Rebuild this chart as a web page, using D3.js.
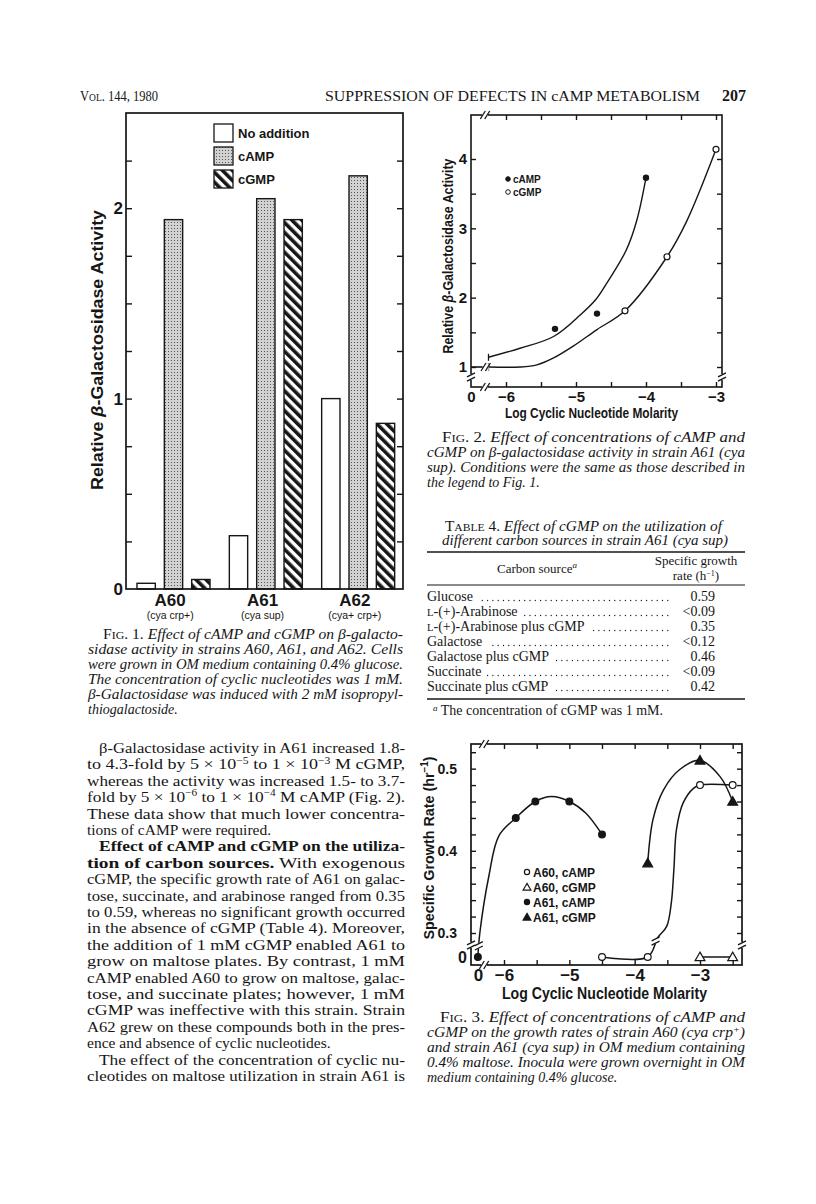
<!DOCTYPE html>
<html>
<head>
<meta charset="utf-8">
<script src="https://cdn.jsdelivr.net/npm/d3@7"></script>
<style>
  body { margin: 0; background: #fff; }
</style>
</head>
<body>
<div id="page"></div>
<script>
// ---------- Fig. 1 data (relative beta-galactosidase activity)
const strains = ["A60", "A61", "A62"];
const strainNotes = ["(cya crp+)", "(cya sup)", "(cya+ crp+)"];
const treatments = ["No addition", "cAMP", "cGMP"];
const activityNone = [0.03, 0.28, 1.0];
const activityCAMP = [1.94, 2.05, 2.17];
const activityCGMP = [0.05, 1.94, 0.87];
const fig1Labels = [0, 1, 2];

// ---------- Fig. 2 data (log molarity vs relative activity)
const f2Zero = -6.5;            // where "0" concentration sits on the axis
const f2ZeroActivity = 1.0;
const f2CampLog = [-5.3, -4.7, -4];
const f2CampAct = [1.55, 1.77, 3.73];
const f2CgmpLog = [-4.3, -3.7, -3];
const f2CgmpAct = [1.81, 2.59, 4.14];
const f2CampFit = [[-6.25, 1.14], [-5.8, 1.27], [-5.32, 1.44], [-4.94, 1.75], [-4.72, 1.97],
                   [-4.56, 2.21], [-4.28, 2.69], [-4.13, 3.12], [-4, 3.73]];
const f2CgmpFit = [[-6.25, 1.0], [-5.8, 1.0], [-5.56, 1.03], [-5.32, 1.13], [-5.04, 1.3],
                   [-4.7, 1.54], [-4.3, 1.81], [-3.7, 2.59], [-3.42, 3.1], [-3, 4.14]];
const f2XLabels = [f2Zero, -6, -5, -4, -3];
const f2YLabels = [1, 2, 3, 4];

// ---------- Fig. 3 data (log molarity vs specific growth rate)
const f3Zero = -6.4;
const a61CampLog = [f3Zero, -5.82, -5.52, -5, -4.5];
const a61CampRate = [0, 0.44, 0.46, 0.46, 0.42];
const a61CgmpLog = [-3.8, -3, -2.5];
const a61CgmpRate = [0.385, 0.51, 0.46];
const a60CampLog = [-4.5, -3.8, -3, -2.5];
const a60CampRate = [0, 0, 0.48, 0.48];
const a60CgmpLog = [-3, -2.5];
const a60CgmpRate = [0, 0];
const a61CampFit = [[f3Zero, 0], [-6.37, 0.3], [-6.23, 0.37], [-6.08, 0.418], [-5.82, 0.44],
                    [-5.52, 0.46], [-5.27, 0.466], [-5, 0.46], [-4.75, 0.446], [-4.5, 0.42]];
const a61CgmpFit = [[-3.8, 0.385], [-3.72, 0.438], [-3.56, 0.474], [-3.31, 0.499], [-3, 0.51],
                    [-2.69, 0.49], [-2.5, 0.46]];
const a60CampFit = [[-4.5, 0], [-3.8, 0], [-3.64, 0.25], [-3.51, 0.308], [-3.44, 0.336],
                    [-3.4, 0.377], [-3.36, 0.426], [-3.26, 0.458], [-3.1, 0.476], [-3, 0.48], [-2.5, 0.48]];
const a60CgmpFit = [[-3, 0], [-2.5, 0]];
const f3Legend = ["A60, cAMP", "A60, cGMP", "A61, cAMP", "A61, cGMP"];
const f3XLabels = [f3Zero, -6, -5, -4, -3];
const f3YLabels = [0, 0.3, 0.4, 0.5];

// ---------- Table 4
const carbonSources = ["Glucose", "~L~-(+)-Arabinose", "~L~-(+)-Arabinose plus cGMP", "Galactose",
                       "Galactose plus cGMP", "Succinate", "Succinate plus cGMP"];
const growthRates = ["0.59", "<0.09", "0.35", "<0.12", "0.46", "<0.09", "0.42"];

// ---------- page text
const cap1 = [
  ">=F=~IG~=. 1.= Effect of cAMP and cGMP on β-galacto-",
  "sidase activity in strains A60, A61, and A62. Cells",
  "were grown in OM medium containing 0.4% glucose.",
  "The concentration of cyclic nucleotides was 1 mM.",
  "β-Galactosidase was induced with 2 mM isopropyl-",
  "thiogalactoside.$"
];
const cap2 = [
  ">=F=~IG~=. 2.= Effect of concentrations of cAMP and",
  "cGMP on β-galactosidase activity in strain A61 (cya",
  "sup). Conditions were the same as those described in",
  "the legend to Fig. 1.$"
];
const cap3 = [
  ">=F=~IG~=. 3.= Effect of concentrations of cAMP and",
  "cGMP on the growth rates of strain A60 (cya crp^+^)",
  "and strain A61 (cya sup) in OM medium containing",
  "0.4% maltose. Inocula were grown overnight in OM",
  "medium containing 0.4% glucose.$"
];
const bodyLines = [
  ">β-Galactosidase activity in A61 increased 1.8-",
  "to 4.3-fold by 5 × 10^−5^ to 1 × 10^−3^ M cGMP,",
  "whereas the activity was increased 1.5- to 3.7-",
  "fold by 5 × 10^−6^ to 1 × 10^−4^ M cAMP (Fig. 2).",
  "These data show that much lower concentra-",
  "tions of cAMP were required.$",
  ">*Effect of cAMP and cGMP on the utiliza-*",
  "*tion of carbon sources.* With exogenous",
  "cGMP, the specific growth rate of A61 on galac-",
  "tose, succinate, and arabinose ranged from 0.35",
  "to 0.59, whereas no significant growth occurred",
  "in the absence of cGMP (Table 4). Moreover,",
  "the addition of 1 mM cGMP enabled A61 to",
  "grow on maltose plates. By contrast, 1 mM",
  "cAMP enabled A60 to grow on maltose, galac-",
  "tose, and succinate plates; however, 1 mM",
  "cGMP was ineffective with this strain. Strain",
  "A62 grew on these compounds both in the pres-",
  "ence and absence of cyclic nucleotides.$",
  ">The effect of the concentration of cyclic nu-",
  "cleotides on maltose utilization in strain A61 is"
];

const SERIF = "'Liberation Serif', 'DejaVu Serif', serif";
const SANS = "'Liberation Sans', Arial, sans-serif";
const INK = "#161616";

const svg = d3.select("#page").append("svg")
  .attr("width", 816).attr("height", 1204)
  .style("background", "#fff");

const defs = svg.append("defs");
const dots = defs.append("pattern").attr("id", "stipple")
  .attr("width", 3).attr("height", 3).attr("patternUnits", "userSpaceOnUse");
dots.append("rect").attr("width", 3).attr("height", 3).attr("fill", "#d2d2d2");
dots.append("rect").attr("width", 1).attr("height", 1).attr("fill", "#555");
const hatch = defs.append("pattern").attr("id", "hatch")
  .attr("width", 7).attr("height", 7).attr("patternUnits", "userSpaceOnUse")
  .attr("patternTransform", "rotate(-45)");
hatch.append("rect").attr("width", 7).attr("height", 7).attr("fill", "#fff");
hatch.append("rect").attr("width", 3.6).attr("height", 7).attr("fill", INK);

// markup: *bold*  =upright=  ~small caps~  ^superscript^ ; ">" indent, trailing "$" = ragged
function richLine(g, x, y, src, o) {
  let s = src, indent = 0, justify = o.justify !== false;
  if (s.startsWith(">")) { indent = o.indent || 0; s = s.slice(1); }
  if (s.endsWith("$")) { justify = false; s = s.slice(0, -1); }
  const t = g.append("text").attr("x", x + indent).attr("y", y)
    .attr("font-family", SERIF).attr("font-size", o.size)
    .attr("font-style", o.italic ? "italic" : "normal").attr("fill", INK);
  const parts = s.split(/(\*[^*]+\*|=[^=]+=|~[^~]+~|\^[^^]+\^)/).filter(p => p);
  let raised = false;
  parts.forEach(p => {
    const ts = t.append("tspan");
    const m = p[0];
    let txt = p;
    if ("*=~^".includes(m) && p.length > 2 && p[p.length - 1] === m) {
      txt = p.slice(1, -1);
      if (m === "*") ts.attr("font-weight", "bold");
      if (m === "=") ts.attr("font-style", "normal");
      if (m === "~") ts.attr("font-style", "normal").attr("font-size", o.size * 0.76);
      if (m === "^") {
        ts.attr("font-size", o.size * 0.65).attr("dy", -o.size * 0.38).text(txt);
        raised = true;
        return;
      }
    }
    if (raised) { ts.attr("dy", o.size * 0.38); raised = false; }
    ts.text(txt);
  });
  if (justify) t.attr("textLength", o.width - indent).attr("lengthAdjust", "spacingAndGlyphs");
  return t;
}
function block(lines, x, y, lh, o) {
  const g = svg.append("g");
  lines.forEach((ln, i) => richLine(g, x, y + i * lh, ln, o));
  return g;
}

function breakMark(g, x, y, dir) {
  const b = g.append("g");
  if (dir === "h") {
    b.append("rect").attr("x", x - 3).attr("y", y - 3).attr("width", 6).attr("height", 6).attr("fill", "#fff");
    [-2.2, 2.2].forEach(d => b.append("line")
      .attr("x1", x + d - 2.5).attr("y1", y + 4).attr("x2", x + d + 2.5).attr("y2", y - 4));
  } else {
    b.append("rect").attr("x", x - 3).attr("y", y - 3).attr("width", 6).attr("height", 6).attr("fill", "#fff");
    [-2.2, 2.2].forEach(d => b.append("line")
      .attr("x1", x - 4).attr("y1", y + d + 2).attr("x2", x + 4).attr("y2", y + d - 2));
  }
  b.selectAll("line").attr("stroke", INK).attr("stroke-width", 1.3);
}

function styleAxisText(g, size) {
  g.select(".domain").remove();
  g.selectAll("text").attr("font-family", SANS).attr("font-weight", "bold")
    .attr("font-size", size).attr("fill", INK);
  g.selectAll("line").attr("stroke", INK).attr("stroke-width", 1.4);
}

// ---------- running head
const head = svg.append("g");
richLine(head, 80, 101, "V~OL~. 144, 1980", { size: 14, width: 78 });
richLine(head, 325, 101, "SUPPRESSION OF DEFECTS IN cAMP METABOLISM", { size: 14, width: 375 });
head.append("text").attr("x", 746).attr("y", 101).attr("text-anchor", "end")
  .attr("font-family", SERIF).attr("font-size", 16).attr("font-weight", "bold").attr("fill", INK).text("207");

// ---------- Fig. 1
const f1 = svg.append("g");
const b1 = { x0: 126, x1: 403, y0: 113, y1: 589 };
const y1 = d3.scaleLinear().domain([0, 2.5]).range([b1.y1, b1.y0]);
const xg = d3.scaleBand().domain(strains).range([b1.x0, b1.x1]);
const xb = d3.scaleBand().domain(treatments).range([11, 84]).paddingInner(0.33);
const seriesVals = { "No addition": activityNone, "cAMP": activityCAMP, "cGMP": activityCGMP };
const seriesFill = { "No addition": "#fff", "cAMP": "url(#stipple)", "cGMP": "url(#hatch)" };

const f1Ticks = d3.range(1, 10).map(i => i * 0.25);
f1.append("g").attr("transform", `translate(${b1.x0},0)`)
  .call(d3.axisRight(y1).tickValues(f1Ticks).tickSize(6).tickFormat(""))
  .call(g => styleAxisText(g, 17));
f1.append("g").attr("transform", `translate(${b1.x1},0)`)
  .call(d3.axisLeft(y1).tickValues(f1Ticks).tickSize(6).tickFormat(""))
  .call(g => styleAxisText(g, 17));
f1.append("g").attr("transform", `translate(${b1.x0 - 3},0)`)
  .call(d3.axisLeft(y1).tickValues(fig1Labels).tickSize(0).tickPadding(0).tickFormat(d3.format("d")))
  .call(g => styleAxisText(g, 17));

strains.forEach((s, i) => {
  treatments.forEach(t => {
    const v = seriesVals[t][i];
    f1.append("rect")
      .attr("x", xg(s) + xb(t)).attr("width", xb.bandwidth())
      .attr("y", y1(v)).attr("height", y1(0) - y1(v))
      .attr("fill", seriesFill[t]).attr("stroke", INK).attr("stroke-width", 1.4);
  });
  const cx = xg(s) + xg.bandwidth() / 2 - 2;
  f1.append("text").attr("x", cx).attr("y", 606).attr("text-anchor", "middle")
    .attr("font-family", SANS).attr("font-weight", "bold").attr("font-size", 17).attr("fill", INK).text(s);
  f1.append("text").attr("x", cx).attr("y", 619).attr("text-anchor", "middle")
    .attr("font-family", SANS).attr("font-size", 10.5).attr("fill", INK).text(strainNotes[i]);
});
f1.append("rect").attr("x", b1.x0).attr("y", b1.y0).attr("width", b1.x1 - b1.x0).attr("height", b1.y1 - b1.y0)
  .attr("fill", "none").attr("stroke", INK).attr("stroke-width", 1.7);

treatments.forEach((t, i) => {
  const ly = 124 + i * 23;
  f1.append("rect").attr("x", 214).attr("y", ly).attr("width", 19).attr("height", 18)
    .attr("fill", seriesFill[t]).attr("stroke", INK).attr("stroke-width", 1.3);
  f1.append("text").attr("x", 238).attr("y", ly + 14).attr("font-family", SANS).attr("font-weight", "bold")
    .attr("font-size", 13).attr("fill", INK).text(t);
});
const f1yl = f1.append("text").attr("transform", "translate(103,350) rotate(-90)").attr("text-anchor", "middle")
  .attr("font-family", SANS).attr("font-weight", "bold").attr("font-size", 17).attr("fill", INK)
  .attr("textLength", 280).attr("lengthAdjust", "spacingAndGlyphs");
f1yl.append("tspan").text("Relative ");
f1yl.append("tspan").attr("font-style", "italic").text("β");
f1yl.append("tspan").text("-Galactosidase Activity");

block(cap1, 88, 639, 15, { size: 14, italic: true, width: 315, indent: 15 });

// ---------- body text
block(bodyLines, 87, 753, 16.4, { size: 15.5, width: 318, indent: 12 });

// ---------- Fig. 2
const f2 = svg.append("g");
const b2 = { x0: 471, x1: 722, y0: 115, y1: 387 };
const x2 = d3.scaleLinear().domain([-6, -3]).range([506, 716]);
const y2 = d3.scaleLinear().domain([1, 4]).range([367, 159]);
const f2XT = d3.range(0, 7).map(i => -6 + i * 0.5);
const f2YT = d3.range(0, 7).map(i => 1 + i * 0.5);
f2.append("g").attr("transform", `translate(0,${b2.y1})`)
  .call(d3.axisTop(x2).tickValues(f2XT).tickSize(5).tickFormat("")).call(g => styleAxisText(g, 14));
f2.append("g").attr("transform", `translate(0,${b2.y0})`)
  .call(d3.axisBottom(x2).tickValues(f2XT).tickSize(5).tickFormat("")).call(g => styleAxisText(g, 14));
f2.append("g").attr("transform", `translate(${b2.x0},0)`)
  .call(d3.axisRight(y2).tickValues(f2YT).tickSize(5).tickFormat("")).call(g => styleAxisText(g, 14));
f2.append("g").attr("transform", `translate(${b2.x1},0)`)
  .call(d3.axisLeft(y2).tickValues(f2YT).tickSize(5).tickFormat("")).call(g => styleAxisText(g, 14));
f2.append("g").attr("transform", `translate(${b2.x0 - 4},0)`)
  .call(d3.axisLeft(y2).tickValues(f2YLabels).tickSize(0).tickPadding(0).tickFormat(d3.format("d")))
  .call(g => styleAxisText(g, 15));
f2.append("g").attr("transform", `translate(0,${b2.y1 + 2})`)
  .call(d3.axisBottom(x2).tickValues(f2XLabels).tickSize(0).tickPadding(2)
    .tickFormat(d => d === f2Zero ? "0" : d3.format("d")(d)))
  .call(g => styleAxisText(g, 15));
f2.append("rect").attr("x", b2.x0).attr("y", b2.y0).attr("width", b2.x1 - b2.x0).attr("height", b2.y1 - b2.y0)
  .attr("fill", "none").attr("stroke", INK).attr("stroke-width", 1.6);
breakMark(f2, 485, b2.y0, "h");
breakMark(f2, 485, b2.y1, "h");
breakMark(f2, b2.x0, 377, "v");
breakMark(f2, b2.x1, 377, "v");

const line2 = d3.line().x(d => x2(d[0])).y(d => y2(d[1])).curve(d3.curveCatmullRom.alpha(0.5));
[f2CampFit, f2CgmpFit].forEach(fit => {
  f2.append("path").attr("d", line2(fit)).attr("fill", "none").attr("stroke", INK).attr("stroke-width", 1.4);
  f2.append("line").attr("x1", x2(fit[0][0])).attr("x2", x2(fit[0][0]))
    .attr("y1", y2(fit[0][1]) - 3.5).attr("y2", y2(fit[0][1]) + 3.5).attr("stroke", INK).attr("stroke-width", 1.3);
});
f2.append("line").attr("x1", x2(f2Zero)).attr("x2", x2(-6.31))
  .attr("y1", y2(f2ZeroActivity)).attr("y2", y2(f2ZeroActivity)).attr("stroke", INK).attr("stroke-width", 1.6);
breakMark(f2, x2(-6.29), y2(f2ZeroActivity), "h");
f2CampLog.forEach((lx, i) => f2.append("circle").attr("cx", x2(lx)).attr("cy", y2(f2CampAct[i])).attr("r", 3.2).attr("fill", INK));
f2CgmpLog.forEach((lx, i) => f2.append("circle").attr("cx", x2(lx)).attr("cy", y2(f2CgmpAct[i])).attr("r", 3)
  .attr("fill", "#fff").attr("stroke", INK).attr("stroke-width", 1.2));
[["cAMP", true], ["cGMP", false]].forEach(([lab, filled], i) => {
  const ly = 179 + i * 13;
  f2.append("circle").attr("cx", 508).attr("cy", ly).attr("r", 2.3)
    .attr("fill", filled ? INK : "#fff").attr("stroke", INK).attr("stroke-width", 1);
  f2.append("text").attr("x", 513).attr("y", ly + 3.5).attr("font-family", SANS).attr("font-weight", "bold")
    .attr("font-size", 10).attr("fill", INK).text(lab);
});
const f2yl = f2.append("text").attr("transform", "translate(453,256) rotate(-90)").attr("text-anchor", "middle")
  .attr("font-family", SANS).attr("font-weight", "bold").attr("font-size", 14).attr("fill", INK)
  .attr("textLength", 195).attr("lengthAdjust", "spacingAndGlyphs");
f2yl.append("tspan").text("Relative ");
f2yl.append("tspan").attr("font-style", "italic").text("β");
f2yl.append("tspan").text("-Galactosidase Activity");
f2.append("text").attr("x", 505).attr("y", 418).attr("font-family", SANS).attr("font-weight", "bold")
  .attr("font-size", 14).attr("fill", INK).attr("textLength", 173).attr("lengthAdjust", "spacingAndGlyphs")
  .text("Log Cyclic Nucleotide Molarity");

block(cap2, 427, 442, 15, { size: 14, italic: true, width: 318, indent: 15 });

// ---------- Table 4
block(["=T=~ABLE~ =4.= Effect of cGMP on the utilization of"], 445, 531, 14, { size: 14, italic: true, width: 277 });
block(["different carbon sources in strain A61 (cya sup)"], 442, 545, 14, { size: 14, italic: true, width: 286 });
const tb = svg.append("g");
[[552, 1.6], [585, 1.1], [699, 1.6]].forEach(([ry, sw]) => tb.append("line")
  .attr("x1", 427).attr("x2", 745).attr("y1", ry).attr("y2", ry).attr("stroke", INK).attr("stroke-width", sw));
const hdr = tb.append("text").attr("x", 537).attr("y", 573).attr("text-anchor", "middle")
  .attr("font-family", SERIF).attr("font-size", 13).attr("fill", INK);
hdr.append("tspan").text("Carbon source");
hdr.append("tspan").attr("font-size", 9).attr("font-style", "italic").attr("dy", -5).text("a");
tb.append("text").attr("x", 696).attr("y", 565).attr("text-anchor", "middle")
  .attr("font-family", SERIF).attr("font-size", 13).attr("fill", INK).text("Specific growth");
const rh = tb.append("text").attr("x", 696).attr("y", 580).attr("text-anchor", "middle")
  .attr("font-family", SERIF).attr("font-size", 13).attr("fill", INK);
rh.append("tspan").text("rate (h");
rh.append("tspan").attr("font-size", 8).attr("dy", -4).text("−1");
rh.append("tspan").attr("dy", 4).text(")");
carbonSources.forEach((src, i) => {
  const ry = 601 + i * 15;
  const t = richLine(tb, 427, ry, src, { size: 14, width: 0, justify: false });
  const end = 427 + t.node().getComputedTextLength();
  const start = Math.ceil((end + 6) / 5.3) * 5.3;
  d3.range(start, 668, 5.3).forEach(dx => tb.append("circle").attr("cx", dx).attr("cy", ry - 0.5)
    .attr("r", 0.65).attr("fill", INK));
  tb.append("text").attr("x", 715).attr("y", ry).attr("text-anchor", "end")
    .attr("font-family", SERIF).attr("font-size", 14).attr("fill", INK).text(growthRates[i]);
});
const fn = tb.append("text").attr("x", 433).attr("y", 715).attr("font-family", SERIF)
  .attr("font-size", 14).attr("fill", INK);
fn.append("tspan").attr("font-size", 9).attr("font-style", "italic").attr("dy", -4).text("a");
fn.append("tspan").attr("dy", 4).text(" The concentration of cGMP was 1 mM.");

// ---------- Fig. 3
const f3 = svg.append("g");
const b3 = { x0: 471, x1: 742, y0: 744, y1: 965 };
const x3 = d3.scaleLinear().domain([-6, -3]).range([504, 700]);
const y3 = d3.scaleLinear().domain([0, 0.3, 0.53]).range([957, 933, 744]);
const f3XT = d3.range(0, 8).map(i => -6 + i * 0.5);
const f3YT = d3.range(15, 27).map(i => i * 0.02);
f3.append("g").attr("transform", `translate(0,${b3.y1})`)
  .call(d3.axisTop(x3).tickValues(f3XT).tickSize(5).tickFormat("")).call(g => styleAxisText(g, 16));
f3.append("g").attr("transform", `translate(0,${b3.y0})`)
  .call(d3.axisBottom(x3).tickValues(f3XT).tickSize(5).tickFormat("")).call(g => styleAxisText(g, 16));
f3.append("g").attr("transform", `translate(${b3.x0},0)`)
  .call(d3.axisRight(y3).tickValues(f3YT).tickSize(5).tickFormat("")).call(g => styleAxisText(g, 16));
f3.append("g").attr("transform", `translate(${b3.x1},0)`)
  .call(d3.axisLeft(y3).tickValues(f3YT).tickSize(5).tickFormat("")).call(g => styleAxisText(g, 16));
f3.append("g").attr("transform", `translate(${b3.x0 - 14},0)`)
  .call(d3.axisLeft(y3).tickValues(f3YLabels.filter(v => v > 0)).tickSize(0).tickPadding(0).tickFormat(d3.format(".1f")))
  .call(g => styleAxisText(g, 14));
f3.append("g").attr("transform", `translate(${b3.x0 - 4},0)`)
  .call(d3.axisLeft(y3).tickValues(f3YLabels.filter(v => v === 0)).tickSize(0).tickPadding(0).tickFormat(d3.format("d")))
  .call(g => styleAxisText(g, 16));
f3.append("g").attr("transform", `translate(0,${b3.y1 + 2})`)
  .call(d3.axisBottom(x3).tickValues(f3XLabels).tickSize(0).tickPadding(2)
    .tickFormat(d => d === f3Zero ? "0" : d3.format("d")(d)))
  .call(g => styleAxisText(g, 17));
f3.append("rect").attr("x", b3.x0).attr("y", b3.y0).attr("width", b3.x1 - b3.x0).attr("height", b3.y1 - b3.y0)
  .attr("fill", "none").attr("stroke", INK).attr("stroke-width", 1.7);
breakMark(f3, 484, b3.y0, "h");
breakMark(f3, 484, b3.y1, "h");
breakMark(f3, b3.x0, 945, "v");
breakMark(f3, b3.x1, 945, "v");

const line3 = d3.line().x(d => x3(d[0])).y(d => y3(d[1])).curve(d3.curveCatmullRom.alpha(0.5));
[a61CampFit, a61CgmpFit, a60CampFit, a60CgmpFit].forEach(fit =>
  f3.append("path").attr("d", line3(fit)).attr("fill", "none").attr("stroke", INK).attr("stroke-width", 1.5));
breakMark(f3, x3(-6.385), y3(0.14), "v");
breakMark(f3, x3(-3.68), y3(0.2), "v");

const tri = d3.symbol(d3.symbolTriangle).size(42);
function marker(g, x, y, kind) {
  const filled = kind === "A61, cAMP" || kind === "A61, cGMP";
  const isTri = kind.endsWith("cGMP");
  const m = isTri
    ? g.append("path").attr("d", tri()).attr("transform", `translate(${x},${y + 0.8})`)
    : g.append("circle").attr("cx", x).attr("cy", y).attr("r", 3.4);
  m.attr("fill", filled ? INK : "#fff").attr("stroke", INK).attr("stroke-width", 1.2);
}
a61CampLog.forEach((lx, i) => marker(f3, x3(lx), y3(a61CampRate[i]), "A61, cAMP"));
a61CgmpLog.forEach((lx, i) => marker(f3, x3(lx), y3(a61CgmpRate[i]), "A61, cGMP"));
a60CampLog.forEach((lx, i) => marker(f3, x3(lx), y3(a60CampRate[i]), "A60, cAMP"));
a60CgmpLog.forEach((lx, i) => marker(f3, x3(lx), y3(a60CgmpRate[i]), "A60, cGMP"));

f3Legend.forEach((lab, i) => {
  const ly = 872 + i * 15;
  const lg = f3.append("g");
  marker(lg, 527, ly, lab);
  lg.select("circle").attr("r", 2.6);
  lg.select("path").attr("d", d3.symbol(d3.symbolTriangle).size(26)());
  lg.append("text").attr("x", 533).attr("y", ly + 4.5).attr("font-family", SANS).attr("font-weight", "bold")
    .attr("font-size", 12).attr("fill", INK).text(lab);
});
const f3yl = f3.append("text").attr("transform", "translate(434,848) rotate(-90)").attr("text-anchor", "middle")
  .attr("font-family", SANS).attr("font-weight", "bold").attr("font-size", 14.5).attr("fill", INK)
  .attr("textLength", 183).attr("lengthAdjust", "spacingAndGlyphs");
f3yl.append("tspan").text("Specific Growth Rate (hr");
f3yl.append("tspan").attr("font-size", 10).attr("dy", -6).text("−1");
f3yl.append("tspan").attr("dy", 6).text(")");
f3.append("text").attr("x", 502).attr("y", 999).attr("font-family", SANS).attr("font-weight", "bold")
  .attr("font-size", 16).attr("fill", INK).attr("textLength", 205).attr("lengthAdjust", "spacingAndGlyphs")
  .text("Log Cyclic Nucleotide Molarity");

block(cap3, 427, 1022, 15, { size: 14, italic: true, width: 318, indent: 13 });
</script>
</body>
</html>
